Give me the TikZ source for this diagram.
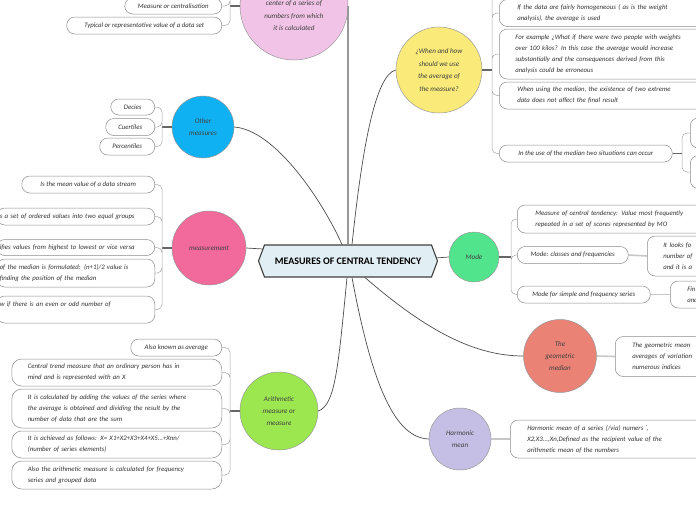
\documentclass[tikz,border=0pt]{standalone}
\usepackage{fontspec}
\setmainfont{Carlito}
\usetikzlibrary{shapes.symbols}

\definecolor{avgpink}{HTML}{F0C3E7}
\definecolor{useyellow}{HTML}{F9EA7A}
\definecolor{othblue}{HTML}{10B1F3}
\definecolor{meapink}{HTML}{F26A9B}
\definecolor{arigreen}{HTML}{9CE650}
\definecolor{modgreen}{HTML}{52E48D}
\definecolor{geored}{HTML}{EB8276}
\definecolor{harlilac}{HTML}{C5BEE5}
\definecolor{rootblue}{HTML}{E1EEF4}

\tikzset{
  topic/.style={circle,draw=black!40,line width=0.5pt,inner sep=0pt,align=center,
    text=black!75,font=\fontsize{7.1}{12.4}\selectfont\itshape},
  leaf/.style={draw=black!45,line width=0.5pt,fill=white,rounded corners=8pt,
    inner xsep=6pt,inner ysep=0pt,align=left,text=black!80,
    font=\fontsize{6.8}{11}\selectfont\itshape},
  rootbox/.style={signal,signal to=west and east,signal pointer angle=139,
    draw=black!75,line width=1.1pt,fill=rootblue,minimum width=179pt,
    minimum height=32pt,inner sep=0pt,font=\fontsize{10}{11}\selectfont\bfseries},
  branch/.style={draw=black!70,line width=0.7pt},
  stem/.style={draw=black!40,line width=1.8pt},
  link/.style={draw=black!60,line width=1.1pt},
  twig/.style={draw=black!35,line width=0.5pt,rounded corners=5pt},
  sublink/.style={draw=black!22,line width=1.6pt},
}

\begin{document}
\begin{tikzpicture}[x=1pt,y=-1pt]
  \useasboundingbox (0,0) rectangle (696,520);
  \clip (0,0) rectangle (696,520);

  \node[rootbox] (tc) at (348,261) {MEASURES OF CENTRAL TENDENCY};

  % main topics
  \node[topic,fill=avgpink,minimum size=108pt] (avg) at (294,6)
    {\mbox{}\\\mbox{}\\center of a series of\\numbers from which\\it is calculated};
  \node[topic,fill=useyellow,minimum size=86pt] (use) at (439,70)
    {¿When and how\\should we use\\the average of\\the measure?};
  \node[topic,fill=othblue,minimum size=62pt] (oth) at (203,127) {Other\\measures};
  \node[topic,fill=meapink,minimum size=74pt] (mea) at (209,248) {measurement};
  \node[topic,fill=arigreen,minimum size=78pt] (ari) at (279,411)
    {Arithmetic\\measure or\\measure};
  \node[topic,fill=modgreen,minimum size=50pt] (mod) at (474,257) {Mode};
  \node[topic,fill=geored,minimum size=73pt] (geo) at (560,356) {The\\geometric\\median};
  \node[topic,fill=harlilac,minimum size=62pt] (har) at (460,439) {Harmonic\\mean};

  % average
  \node[leaf,anchor=east,minimum width=97pt,minimum height=16pt] (avg1) at (222,6)
    {Measure or centralisation};
  \node[leaf,anchor=east,minimum width=155pt,minimum height=17pt] (avg2) at (222,25.5)
    {Typical or representative value of a data set};

  % when and how
  \node[leaf,anchor=west,inner xsep=18pt,text width=180pt,minimum height=27pt] (use1) at (499,13)
    {If the data are fairly homogeneous ( as is the weight\\analysis), the average is used};
  \node[leaf,anchor=west,inner xsep=16pt,text width=182pt,minimum height=50pt] (use2) at (499,54)
    {For example ¿What if there were two people with weights\\over 100 kilos? In this case the average would increase\\substantially and the consequences derived from this\\analysis could be erroneous};
  \node[leaf,anchor=west,inner xsep=18pt,text width=180pt,minimum height=27pt] (use3) at (499,95.5)
    {When using the median, the existence of two extreme\\data does not affect the final result};
  \node[leaf,anchor=west,minimum width=173pt,minimum height=17pt] (use4) at (499,153.5)
    {In the use of the median two situations can occur};
  \node[leaf,anchor=west,minimum width=60pt,minimum height=30pt] (use4a) at (690,133) {};
  \node[leaf,anchor=west,minimum width=60pt,minimum height=33pt] (use4b) at (690,172) {};

  % other measures
  \node[leaf,anchor=east,minimum width=44pt,minimum height=16pt] (oth1) at (155,107) {Decies};
  \node[leaf,anchor=east,minimum width=49pt,minimum height=17pt] (oth2) at (155,127) {Cuertiles};
  \node[leaf,anchor=east,minimum width=55pt,minimum height=17pt] (oth3) at (155,146.5) {Percentiles};

  % measurement
  \node[leaf,anchor=east,minimum width=133pt,minimum height=17pt] (mea1) at (155,184.5)
    {Is the mean value of a data stream};
  \node[leaf,anchor=east,inner xsep=3pt,text width=152pt,minimum height=17pt] (mea2) at (155,216.5)
    {s a set of ordered values into two equal groups};
  \node[leaf,anchor=east,inner xsep=3pt,text width=152pt,minimum height=16pt] (mea3) at (155,247.5)
    {ifies values from highest to lowest or vice versa};
  \node[leaf,anchor=east,inner xsep=3pt,text width=152pt,minimum height=28pt] (mea4) at (155,273)
    {of the median is formulated: (n+1)/2 value is\\finding the position of the median};
  \node[leaf,anchor=east,inner xsep=3pt,text width=152pt,minimum height=27pt] (mea5) at (155,309.5)
    {w if there is an even or odd number of\\\mbox{}};

  % arithmetic
  \node[leaf,anchor=east,minimum width=91pt,minimum height=17pt] (ari1) at (222,347.5)
    {Also known as average};
  \node[leaf,anchor=east,inner xsep=16pt,text width=178pt,minimum height=27pt,rounded corners=10pt] (ari2) at (222,372.5)
    {Central trend measure that an ordinary person has in\\mind and is represented with an X};
  \node[leaf,anchor=east,inner xsep=16pt,text width=178pt,minimum height=39pt,rounded corners=10pt] (ari3) at (222,408.5)
    {It is calculated by adding the values of the series where\\the average is obtained and dividing the result by the\\number of data that are the sum};
  \node[leaf,anchor=east,inner xsep=16pt,text width=178pt,minimum height=27pt,rounded corners=10pt] (ari4) at (222,444.5)
    {It is achieved as follows: X= X1+X2+X3+X4+X5...+Xnn/\\(number of series elements)};
  \node[leaf,anchor=east,inner xsep=16pt,text width=178pt,minimum height=28pt,rounded corners=10pt] (ari5) at (222,475)
    {Also the arithmetic measure is calculated for frequency\\series and grouped data};

  % mode
  \node[leaf,anchor=west,inner xsep=18pt,text width=170pt,minimum height=28pt] (mod1) at (517,219)
    {Measure of central tendency: Value most frequently\\repeated in a set of scores represented by MO};
  \node[leaf,anchor=west,minimum width=111pt,minimum height=17pt] (mod2) at (517,255)
    {Mode: classes and frequencies};
  \node[leaf,anchor=west,minimum width=133pt,minimum height=17pt] (mod3) at (517,294.5)
    {Mode for simple and frequency series};
  \node[leaf,anchor=west,inner xsep=16pt,text width=80pt,minimum height=40pt] (mod2a) at (647,256)
    {It looks fo\\number of\\and it is a};
  \node[leaf,anchor=west,inner xsep=17pt,text width=80pt,minimum height=27pt] (mod3a) at (670,294.5)
    {Fin\\and};

  % geometric and harmonic
  \node[leaf,anchor=west,inner xsep=17pt,text width=90pt,minimum height=40pt] (geo1) at (615,356.5)
    {The geometric mean\\averages of variation\\numerous indices};
  \node[leaf,anchor=west,inner xsep=17pt,text width=175pt,minimum height=38pt] (har1) at (510,439)
    {Harmonic mean of a series (/via) numers ˙,\\X2,X3...,Xn,Defined as the recipient value of the\\arithmetic mean of the numbers};

  % branches from the centre
  \draw[stem] (avg.east |- tc.north) -- (avg.east);
  \draw[branch] ([xshift=4pt]tc.north) .. controls (362,150) and (375,75) .. (use.west);
  \draw[branch] (oth.east) .. controls (275,130) and (322,200) .. ([xshift=-6pt]tc.north);
  \draw[branch] (mea.east) -- (tc.172);
  \draw[branch] (tc.2) -- (mod.west);
  \draw[branch] ([xshift=-1pt]tc.south) .. controls (338,370) and (335,405) .. (ari.east);
  \draw[branch] ([xshift=4pt]tc.south) .. controls (372,385) and (395,438) .. (har.west);
  \draw[branch] ([xshift=17pt]tc.south) .. controls (420,325) and (470,356) .. (geo.west);

  % brackets
  \coordinate (avgj) at (230,6);
  \draw[link] (avg.west) -- (avgj);
  \draw[twig] (avgj) |- (avg1.east) (avgj) |- (avg2.east);

  \coordinate (usej) at (492,70);
  \coordinate (usetop) at (492,-2);
  \draw[link] (use.east) -- (usej);
  \draw[twig] (usej) |- (use1.west) (usej) |- (use2.west) (usej) |- (use3.west)
    (usej) |- (use4.west) (usej) -- (usetop);
  \coordinate (use4j) at (682,153.5);
  \draw[link] (use4.east) -- (use4j);
  \draw[twig] (use4j) |- (use4a.west) (use4j) |- (use4b.west);

  \coordinate (othj) at (162,127);
  \draw[link] (oth.west) -- (othj);
  \draw[twig] (othj) |- (oth1.east) (othj) |- (oth2.east) (othj) |- (oth3.east);

  \coordinate (meaj) at (162,248);
  \draw[link] (mea.west) -- (meaj);
  \draw[twig] (meaj) |- (mea1.east) (meaj) |- (mea2.east) (meaj) |- (mea3.east)
    (meaj) |- (mea4.east) (meaj) |- (mea5.east);

  \coordinate (arij) at (230,411);
  \draw[link] (ari.west) -- (arij);
  \draw[twig] (arij) |- (ari1.east) (arij) |- (ari2.east) (arij) |- (ari3.east)
    (arij) |- (ari4.east) (arij) |- (ari5.east);

  \coordinate (modj) at (511,257);
  \draw[link] (mod.east) -- (modj);
  \draw[twig] (modj) |- (mod1.west) (modj) |- (mod2.west) (modj) |- (mod3.west);
  \draw[sublink] (mod2.east) -- (mod2a.west);
  \draw[sublink] (mod3.east) -- (mod3a.west);

  \draw[sublink] (geo.east) -- (geo1.west);
  \draw[sublink] (har.east) -- (har1.west);
\end{tikzpicture}
\end{document}
